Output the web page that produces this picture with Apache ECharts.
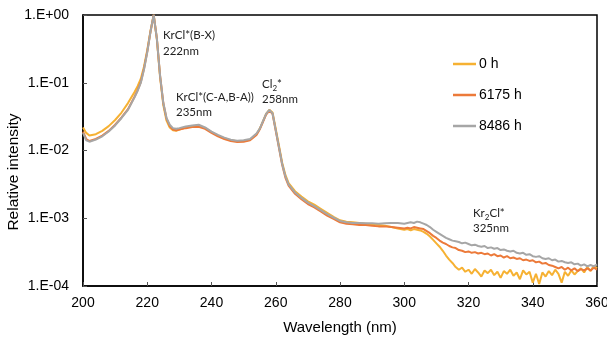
<!DOCTYPE html>
<html><head><meta charset="utf-8">
<script src="https://cdn.jsdelivr.net/npm/echarts@6/dist/echarts.min.js"></script>
<style>html,body{margin:0;padding:0;background:#fff}#c{width:607px;height:338px}</style>
</head><body><div id="c"></div>
<script>
// Wavelength (nm)
const wavelength = [200,201,202,204,206,208,210,212,214,216,217,218,219,220,221,222,223,224,225,226,227,228,229,230,
  232,234,236,238,240,242,244,246,248,250,252,254,255,256,257,258,259,260,261,262,263,264,
  266,268,270,272,274,276,278,280,282,284,286,288,290,292,294,296,298,
  300,301,302,303,304,305,306,307,308,309,310,311,312,313,314,315,316,317,318,319,320,
  321,322,323,324,325,326,327,328,329,330,331,332,333,334,335,336,337,338,339,340,
  341,342,343,344,345,346,347,348,349,350,351,352,353,354,355,356,357,358,359,360];
// log10 of relative intensity
const log10_0h = [-1.66,-1.74,-1.78,-1.76,-1.71,-1.64,-1.55,-1.44,-1.30,-1.14,-1.05,-0.94,-0.76,-0.52,-0.24,0,-0.36,-0.92,-1.33,-1.56,-1.66,-1.70,-1.71,-1.69,
  -1.66,-1.64,-1.64,-1.67,-1.73,-1.78,-1.82,-1.85,-1.865,-1.86,-1.84,-1.76,-1.68,-1.57,-1.46,-1.40,-1.44,-1.68,-1.93,-2.18,-2.36,-2.48,
  -2.60,-2.68,-2.75,-2.80,-2.86,-2.92,-2.98,-3.03,-3.05,-3.06,-3.07,-3.08,-3.09,-3.10,-3.11,-3.13,-3.15,
  -3.17,-3.16,-3.18,-3.16,-3.17,-3.18,-3.20,-3.23,-3.27,-3.32,-3.37,-3.42,-3.48,-3.55,-3.61,-3.66,-3.72,-3.76,-3.73,-3.79,-3.76,
  -3.82,-3.75,-3.80,-3.86,-3.77,-3.81,-3.76,-3.84,-3.79,-3.88,-3.78,-3.82,-3.76,-3.85,-3.80,-3.90,-3.77,-3.83,-3.79,-3.95,
  -3.82,-3.97,-3.80,-3.86,-3.78,-3.84,-3.76,-3.82,-3.95,-3.79,-3.85,-3.77,-3.83,-3.78,-3.74,-3.80,-3.72,-3.78,-3.70,-3.74];
const log10_6175h = [-1.72,-1.83,-1.86,-1.83,-1.78,-1.71,-1.62,-1.51,-1.39,-1.21,-1.11,-0.99,-0.79,-0.54,-0.25,0,-0.35,-0.90,-1.30,-1.53,-1.64,-1.69,-1.70,-1.69,
  -1.67,-1.655,-1.65,-1.68,-1.74,-1.79,-1.83,-1.86,-1.875,-1.87,-1.85,-1.77,-1.69,-1.58,-1.47,-1.41,-1.46,-1.71,-1.96,-2.21,-2.40,-2.52,
  -2.64,-2.72,-2.79,-2.84,-2.90,-2.96,-3.01,-3.06,-3.08,-3.09,-3.10,-3.10,-3.11,-3.12,-3.12,-3.13,-3.14,
  -3.15,-3.14,-3.15,-3.13,-3.14,-3.15,-3.16,-3.19,-3.22,-3.26,-3.29,-3.33,-3.36,-3.38,-3.41,-3.43,-3.44,-3.47,-3.48,-3.50,-3.49,
  -3.51,-3.50,-3.52,-3.51,-3.53,-3.52,-3.55,-3.53,-3.56,-3.55,-3.58,-3.56,-3.59,-3.58,-3.60,-3.59,-3.62,-3.61,-3.63,-3.62,
  -3.65,-3.64,-3.67,-3.66,-3.69,-3.70,-3.72,-3.74,-3.72,-3.76,-3.73,-3.77,-3.74,-3.78,-3.75,-3.77,-3.74,-3.77,-3.73,-3.76];
const log10_8486h = [-1.74,-1.85,-1.87,-1.84,-1.79,-1.72,-1.63,-1.52,-1.40,-1.22,-1.12,-1.00,-0.80,-0.55,-0.25,0,-0.35,-0.90,-1.30,-1.52,-1.62,-1.67,-1.68,-1.67,
  -1.645,-1.63,-1.62,-1.66,-1.72,-1.77,-1.81,-1.84,-1.855,-1.85,-1.83,-1.75,-1.68,-1.57,-1.46,-1.40,-1.45,-1.70,-1.95,-2.20,-2.38,-2.50,
  -2.62,-2.70,-2.77,-2.82,-2.88,-2.94,-2.99,-3.04,-3.06,-3.07,-3.07,-3.075,-3.075,-3.08,-3.075,-3.07,-3.07,
  -3.08,-3.07,-3.06,-3.07,-3.05,-3.06,-3.08,-3.10,-3.13,-3.17,-3.20,-3.23,-3.26,-3.29,-3.31,-3.33,-3.34,-3.35,-3.37,-3.36,-3.38,
  -3.40,-3.39,-3.41,-3.42,-3.41,-3.44,-3.43,-3.45,-3.44,-3.47,-3.46,-3.48,-3.49,-3.48,-3.51,-3.52,-3.51,-3.54,-3.53,-3.56,
  -3.57,-3.56,-3.59,-3.60,-3.59,-3.62,-3.61,-3.64,-3.63,-3.65,-3.66,-3.65,-3.68,-3.67,-3.70,-3.68,-3.71,-3.69,-3.71,-3.68];
const seriesNames = ['0 h','6175 h','8486 h'];
const xTicks = [200,220,240,260,280,300,320,340,360];

const colors = ['#F6B132','#EC7A3A','#A6A6A6'];
const allLogs = [log10_0h, log10_6175h, log10_8486h];
const chart = echarts.init(document.getElementById('c'));
const txt = {fontFamily:'Liberation Sans, Arial, sans-serif', color:'#000'};
const annFont = '11.5px Lato, sans-serif';
chart.setOption({
  animation:false,
  backgroundColor:'#fff',
  grid:{left:83,right:10,top:15,bottom:52,outerBoundsMode:'none',containLabel:false,show:true,borderColor:'#000',borderWidth:1.5,backgroundColor:'transparent'},
  legend:{orient:'vertical',left:453,top:57,icon:'rect',itemWidth:23,itemHeight:2.5,itemGap:17,padding:0,
    textStyle:Object.assign({fontSize:14,padding:[0,0,0,-2]},txt),data:seriesNames},
  xAxis:{type:'value',min:xTicks[0],max:xTicks[xTicks.length-1],interval:20,
    name:'Wavelength (nm)',nameLocation:'middle',nameGap:34,nameTextStyle:Object.assign({fontSize:15},txt),
    axisLine:{lineStyle:{color:'#000',width:1.5}},
    axisTick:{inside:true,length:4,lineStyle:{color:'#555'}},
    axisLabel:Object.assign({fontSize:14,margin:10},txt),
    splitLine:{show:false}},
  yAxis:{type:'log',logBase:10,min:1e-4,max:1,
    axisLine:{lineStyle:{color:'#000',width:1.5}},
    axisTick:{inside:true,length:4,lineStyle:{color:'#555'}},
    axisLabel:Object.assign({fontSize:14,margin:14,formatter:v=>{const e=Math.round(Math.log10(v));return '1.E'+(e<0?'-':'+')+String(Math.abs(e)).padStart(2,'0');}},txt),
    splitLine:{show:false},minorTick:{show:false}},
  series: seriesNames.map((n,i)=>({
    name:n,type:'line',symbol:'none',smooth:false,
    lineStyle:{width:2,color:colors[i]},itemStyle:{color:colors[i]},
    data: wavelength.map((w,k)=>[w,Math.pow(10,allLogs[i][k])])
  })),
  graphic:[
    {type:'text',x:14,y:172,rotation:Math.PI/2,style:{text:'Relative intensity',font:'15.5px Liberation Sans, Arial, sans-serif',fill:'#000',align:'center',verticalAlign:'middle'}},
    {type:'text',left:163,top:27,style:{text:'KrCl*(B-X)\n222nm',font:annFont,lineHeight:16,fill:'#222'}},
    {type:'text',left:176,top:90,style:{text:'KrCl*(C-A,B-A))\n235nm',font:annFont,lineHeight:15,fill:'#222'}},
    {type:'text',left:262,top:77,style:{text:'Cl{s|2}*\n258nm',font:annFont,lineHeight:15,fill:'#222',rich:{s:{font:'8px Lato, sans-serif',fill:'#222',verticalAlign:'bottom',padding:[5,0,0,0]}}}},
    {type:'text',left:473,top:206,style:{text:'Kr{s|2}Cl*\n325nm',font:annFont,lineHeight:15,fill:'#222',rich:{s:{font:'8px Lato, sans-serif',fill:'#222',verticalAlign:'bottom',padding:[5,0,0,0]}}}}
  ]
});
</script></body></html>
